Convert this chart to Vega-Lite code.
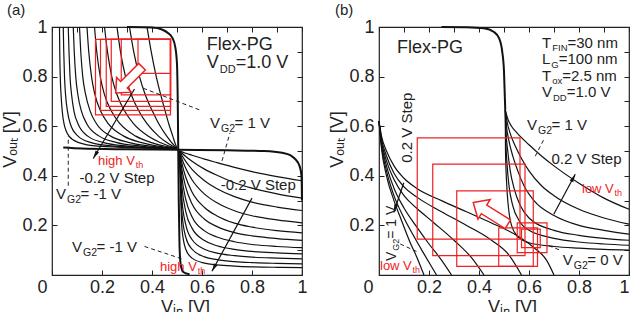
{
  "$schema": "https://vega.github.io/schema/vega-lite/v6.json",
  "background": "white",
  "padding": {"left": 1, "top": 2, "right": 0, "bottom": 0},
  "spacing": 20,
  "config": {
    "view": {"stroke": "#222", "strokeWidth": 1.2},
    "axis": {"grid": false, "domain": false, "tickColor": "#222", "tickSize": -5, "tickWidth": 1,
             "labelFont": "Liberation Sans", "labelFontSize": 18, "labelColor": "#222", "labelFlush": false,
             "titleFont": "Liberation Sans", "titleFontSize": 18, "titleFontWeight": "normal", "titleColor": "#222", "titlePadding": 2},
    "title": {"font": "Liberation Sans", "fontSize": 15, "fontWeight": "normal", "color": "#222", "anchor": "start"},
    "line": {"interpolate": "monotone"}
  },
  "datasets": {
    "curvesA": [
      {"c":"B1","o":0,"x":0.51,"y":0.5},{"c":"B1","o":1,"x":0.52,"y":0.4965},{"c":"B1","o":2,"x":0.535,"y":0.491},{"c":"B1","o":3,"x":0.56,"y":0.483},{"c":"B1","o":4,"x":0.61,"y":0.467},{"c":"B1","o":5,"x":0.66,"y":0.453},{"c":"B1","o":6,"x":0.73,"y":0.434},{"c":"B1","o":7,"x":0.8,"y":0.417},{"c":"B1","o":8,"x":0.9,"y":0.397},{"c":"B1","o":9,"x":1,"y":0.38},
      {"c":"B2","o":0,"x":0.51,"y":0.5},{"c":"B2","o":1,"x":0.52,"y":0.491},{"c":"B2","o":2,"x":0.535,"y":0.478},{"c":"B2","o":3,"x":0.56,"y":0.459},{"c":"B2","o":4,"x":0.61,"y":0.427},{"c":"B2","o":5,"x":0.66,"y":0.402},{"c":"B2","o":6,"x":0.73,"y":0.372},{"c":"B2","o":7,"x":0.8,"y":0.35},{"c":"B2","o":8,"x":0.9,"y":0.327},{"c":"B2","o":9,"x":1,"y":0.31},
      {"c":"B3","o":0,"x":0.51,"y":0.5},{"c":"B3","o":1,"x":0.52,"y":0.482},{"c":"B3","o":2,"x":0.535,"y":0.458},{"c":"B3","o":3,"x":0.56,"y":0.426},{"c":"B3","o":4,"x":0.61,"y":0.38},{"c":"B3","o":5,"x":0.66,"y":0.348},{"c":"B3","o":6,"x":0.73,"y":0.316},{"c":"B3","o":7,"x":0.8,"y":0.294},{"c":"B3","o":8,"x":0.9,"y":0.274},{"c":"B3","o":9,"x":1,"y":0.26},
      {"c":"B4","o":0,"x":0.51,"y":0.5},{"c":"B4","o":1,"x":0.52,"y":0.468},{"c":"B4","o":2,"x":0.535,"y":0.43},{"c":"B4","o":3,"x":0.56,"y":0.384},{"c":"B4","o":4,"x":0.61,"y":0.326},{"c":"B4","o":5,"x":0.66,"y":0.291},{"c":"B4","o":6,"x":0.73,"y":0.259},{"c":"B4","o":7,"x":0.8,"y":0.239},{"c":"B4","o":8,"x":0.9,"y":0.222},{"c":"B4","o":9,"x":1,"y":0.21},
      {"c":"B5","o":0,"x":0.51,"y":0.5},{"c":"B5","o":1,"x":0.52,"y":0.449},{"c":"B5","o":2,"x":0.535,"y":0.394},{"c":"B5","o":3,"x":0.56,"y":0.335},{"c":"B5","o":4,"x":0.61,"y":0.272},{"c":"B5","o":5,"x":0.66,"y":0.238},{"c":"B5","o":6,"x":0.73,"y":0.209},{"c":"B5","o":7,"x":0.8,"y":0.193},{"c":"B5","o":8,"x":0.9,"y":0.179},{"c":"B5","o":9,"x":1,"y":0.17},
      {"c":"B6","o":0,"x":0.51,"y":0.5},{"c":"B6","o":1,"x":0.52,"y":0.424},{"c":"B6","o":2,"x":0.535,"y":0.354},{"c":"B6","o":3,"x":0.56,"y":0.287},{"c":"B6","o":4,"x":0.61,"y":0.225},{"c":"B6","o":5,"x":0.66,"y":0.195},{"c":"B6","o":6,"x":0.73,"y":0.171},{"c":"B6","o":7,"x":0.8,"y":0.158},{"c":"B6","o":8,"x":0.9,"y":0.147},{"c":"B6","o":9,"x":1,"y":0.14},
      {"c":"B7","o":0,"x":0.51,"y":0.5},{"c":"B7","o":1,"x":0.52,"y":0.391},{"c":"B7","o":2,"x":0.535,"y":0.305},{"c":"B7","o":3,"x":0.56,"y":0.235},{"c":"B7","o":4,"x":0.61,"y":0.178},{"c":"B7","o":5,"x":0.66,"y":0.153},{"c":"B7","o":6,"x":0.73,"y":0.134},{"c":"B7","o":7,"x":0.8,"y":0.123},{"c":"B7","o":8,"x":0.9,"y":0.115},{"c":"B7","o":9,"x":1,"y":0.11},
      {"c":"B8","o":0,"x":0.51,"y":0.5},{"c":"B8","o":1,"x":0.52,"y":0.353},{"c":"B8","o":2,"x":0.535,"y":0.256},{"c":"B8","o":3,"x":0.56,"y":0.189},{"c":"B8","o":4,"x":0.61,"y":0.139},{"c":"B8","o":5,"x":0.66,"y":0.118},{"c":"B8","o":6,"x":0.73,"y":0.103},{"c":"B8","o":7,"x":0.8,"y":0.095},{"c":"B8","o":8,"x":0.9,"y":0.089},{"c":"B8","o":9,"x":1,"y":0.085},
      {"c":"B9","o":0,"x":0.51,"y":0.5},{"c":"B9","o":1,"x":0.52,"y":0.302},{"c":"B9","o":2,"x":0.535,"y":0.203},{"c":"B9","o":3,"x":0.56,"y":0.143},{"c":"B9","o":4,"x":0.61,"y":0.104},{"c":"B9","o":5,"x":0.66,"y":0.088},{"c":"B9","o":6,"x":0.73,"y":0.078},{"c":"B9","o":7,"x":0.8,"y":0.072},{"c":"B9","o":8,"x":0.9,"y":0.068},{"c":"B9","o":9,"x":1,"y":0.065},
      {"c":"B10","o":0,"x":0.51,"y":0.5},{"c":"B10","o":1,"x":0.52,"y":0.248},{"c":"B10","o":2,"x":0.535,"y":0.153},{"c":"B10","o":3,"x":0.56,"y":0.104},{"c":"B10","o":4,"x":0.61,"y":0.073},{"c":"B10","o":5,"x":0.66,"y":0.062},{"c":"B10","o":6,"x":0.73,"y":0.054},{"c":"B10","o":7,"x":0.8,"y":0.05},{"c":"B10","o":8,"x":0.9,"y":0.047},{"c":"B10","o":9,"x":1,"y":0.045},
      {"c":"B11","o":0,"x":0.51,"y":0.5},{"c":"B11","o":1,"x":0.52,"y":0.184},{"c":"B11","o":2,"x":0.535,"y":0.104},{"c":"B11","o":3,"x":0.56,"y":0.068},{"c":"B11","o":4,"x":0.61,"y":0.048},{"c":"B11","o":5,"x":0.66,"y":0.041},{"c":"B11","o":6,"x":0.73,"y":0.036},{"c":"B11","o":7,"x":0.8,"y":0.033},{"c":"B11","o":8,"x":0.9,"y":0.031},{"c":"B11","o":9,"x":1,"y":0.03},
      {"c":"A1","o":0,"x":0.38,"y":1},{"c":"A1","o":1,"x":0.397,"y":0.9},{"c":"A1","o":2,"x":0.417,"y":0.8},{"c":"A1","o":3,"x":0.434,"y":0.73},{"c":"A1","o":4,"x":0.453,"y":0.66},{"c":"A1","o":5,"x":0.467,"y":0.61},{"c":"A1","o":6,"x":0.483,"y":0.56},{"c":"A1","o":7,"x":0.491,"y":0.535},{"c":"A1","o":8,"x":0.4965,"y":0.52},{"c":"A1","o":9,"x":0.5,"y":0.51},
      {"c":"A2","o":0,"x":0.31,"y":1},{"c":"A2","o":1,"x":0.327,"y":0.9},{"c":"A2","o":2,"x":0.35,"y":0.8},{"c":"A2","o":3,"x":0.372,"y":0.73},{"c":"A2","o":4,"x":0.402,"y":0.66},{"c":"A2","o":5,"x":0.427,"y":0.61},{"c":"A2","o":6,"x":0.459,"y":0.56},{"c":"A2","o":7,"x":0.478,"y":0.535},{"c":"A2","o":8,"x":0.491,"y":0.52},{"c":"A2","o":9,"x":0.5,"y":0.51},
      {"c":"A3","o":0,"x":0.26,"y":1},{"c":"A3","o":1,"x":0.274,"y":0.9},{"c":"A3","o":2,"x":0.294,"y":0.8},{"c":"A3","o":3,"x":0.316,"y":0.73},{"c":"A3","o":4,"x":0.348,"y":0.66},{"c":"A3","o":5,"x":0.38,"y":0.61},{"c":"A3","o":6,"x":0.426,"y":0.56},{"c":"A3","o":7,"x":0.458,"y":0.535},{"c":"A3","o":8,"x":0.482,"y":0.52},{"c":"A3","o":9,"x":0.5,"y":0.51},
      {"c":"A4","o":0,"x":0.21,"y":1},{"c":"A4","o":1,"x":0.222,"y":0.9},{"c":"A4","o":2,"x":0.239,"y":0.8},{"c":"A4","o":3,"x":0.259,"y":0.73},{"c":"A4","o":4,"x":0.291,"y":0.66},{"c":"A4","o":5,"x":0.326,"y":0.61},{"c":"A4","o":6,"x":0.384,"y":0.56},{"c":"A4","o":7,"x":0.43,"y":0.535},{"c":"A4","o":8,"x":0.468,"y":0.52},{"c":"A4","o":9,"x":0.5,"y":0.51},
      {"c":"A5","o":0,"x":0.17,"y":1},{"c":"A5","o":1,"x":0.179,"y":0.9},{"c":"A5","o":2,"x":0.193,"y":0.8},{"c":"A5","o":3,"x":0.209,"y":0.73},{"c":"A5","o":4,"x":0.238,"y":0.66},{"c":"A5","o":5,"x":0.272,"y":0.61},{"c":"A5","o":6,"x":0.335,"y":0.56},{"c":"A5","o":7,"x":0.394,"y":0.535},{"c":"A5","o":8,"x":0.449,"y":0.52},{"c":"A5","o":9,"x":0.5,"y":0.51},
      {"c":"A6","o":0,"x":0.14,"y":1},{"c":"A6","o":1,"x":0.147,"y":0.9},{"c":"A6","o":2,"x":0.158,"y":0.8},{"c":"A6","o":3,"x":0.171,"y":0.73},{"c":"A6","o":4,"x":0.195,"y":0.66},{"c":"A6","o":5,"x":0.225,"y":0.61},{"c":"A6","o":6,"x":0.287,"y":0.56},{"c":"A6","o":7,"x":0.354,"y":0.535},{"c":"A6","o":8,"x":0.424,"y":0.52},{"c":"A6","o":9,"x":0.5,"y":0.51},
      {"c":"A7","o":0,"x":0.11,"y":1},{"c":"A7","o":1,"x":0.115,"y":0.9},{"c":"A7","o":2,"x":0.123,"y":0.8},{"c":"A7","o":3,"x":0.134,"y":0.73},{"c":"A7","o":4,"x":0.153,"y":0.66},{"c":"A7","o":5,"x":0.178,"y":0.61},{"c":"A7","o":6,"x":0.235,"y":0.56},{"c":"A7","o":7,"x":0.305,"y":0.535},{"c":"A7","o":8,"x":0.391,"y":0.52},{"c":"A7","o":9,"x":0.5,"y":0.51},
      {"c":"A8","o":0,"x":0.085,"y":1},{"c":"A8","o":1,"x":0.089,"y":0.9},{"c":"A8","o":2,"x":0.095,"y":0.8},{"c":"A8","o":3,"x":0.103,"y":0.73},{"c":"A8","o":4,"x":0.118,"y":0.66},{"c":"A8","o":5,"x":0.139,"y":0.61},{"c":"A8","o":6,"x":0.189,"y":0.56},{"c":"A8","o":7,"x":0.256,"y":0.535},{"c":"A8","o":8,"x":0.353,"y":0.52},{"c":"A8","o":9,"x":0.5,"y":0.51},
      {"c":"A9","o":0,"x":0.065,"y":1},{"c":"A9","o":1,"x":0.068,"y":0.9},{"c":"A9","o":2,"x":0.072,"y":0.8},{"c":"A9","o":3,"x":0.078,"y":0.73},{"c":"A9","o":4,"x":0.088,"y":0.66},{"c":"A9","o":5,"x":0.104,"y":0.61},{"c":"A9","o":6,"x":0.143,"y":0.56},{"c":"A9","o":7,"x":0.203,"y":0.535},{"c":"A9","o":8,"x":0.302,"y":0.52},{"c":"A9","o":9,"x":0.5,"y":0.51},
      {"c":"A10","o":0,"x":0.045,"y":1},{"c":"A10","o":1,"x":0.047,"y":0.9},{"c":"A10","o":2,"x":0.05,"y":0.8},{"c":"A10","o":3,"x":0.054,"y":0.73},{"c":"A10","o":4,"x":0.062,"y":0.66},{"c":"A10","o":5,"x":0.073,"y":0.61},{"c":"A10","o":6,"x":0.104,"y":0.56},{"c":"A10","o":7,"x":0.153,"y":0.535},{"c":"A10","o":8,"x":0.248,"y":0.52},{"c":"A10","o":9,"x":0.5,"y":0.51},
      {"c":"A11","o":0,"x":0.03,"y":1},{"c":"A11","o":1,"x":0.031,"y":0.9},{"c":"A11","o":2,"x":0.033,"y":0.8},{"c":"A11","o":3,"x":0.036,"y":0.73},{"c":"A11","o":4,"x":0.041,"y":0.66},{"c":"A11","o":5,"x":0.048,"y":0.61},{"c":"A11","o":6,"x":0.068,"y":0.56},{"c":"A11","o":7,"x":0.104,"y":0.535},{"c":"A11","o":8,"x":0.184,"y":0.52},{"c":"A11","o":9,"x":0.5,"y":0.51}
    ],
    "heavyA": [
      {"c":"H1","o":0,"x":0.3,"y":1},{"c":"H1","o":1,"x":0.4,"y":0.998},{"c":"H1","o":2,"x":0.44,"y":0.99},{"c":"H1","o":3,"x":0.465,"y":0.975},{"c":"H1","o":4,"x":0.482,"y":0.955},{"c":"H1","o":5,"x":0.493,"y":0.92},{"c":"H1","o":6,"x":0.5,"y":0.85},{"c":"H1","o":7,"x":0.503,"y":0.7},{"c":"H1","o":8,"x":0.505,"y":0.5},{"c":"H1","o":9,"x":0.507,"y":0.3},{"c":"H1","o":10,"x":0.51,"y":0.12},{"c":"H1","o":11,"x":0.515,"y":0.04},{"c":"H1","o":12,"x":0.525,"y":0.012},{"c":"H1","o":13,"x":0.55,"y":0.003},
      {"c":"H2","o":0,"x":0.045,"y":0.514},{"c":"H2","o":1,"x":0.12,"y":0.51},{"c":"H2","o":2,"x":0.3,"y":0.507},{"c":"H2","o":3,"x":0.5,"y":0.505},{"c":"H2","o":4,"x":0.7,"y":0.503},{"c":"H2","o":5,"x":0.85,"y":0.5},{"c":"H2","o":6,"x":0.92,"y":0.493},{"c":"H2","o":7,"x":0.955,"y":0.482},{"c":"H2","o":8,"x":0.975,"y":0.465},{"c":"H2","o":9,"x":0.99,"y":0.44},{"c":"H2","o":10,"x":0.998,"y":0.4},{"c":"H2","o":11,"x":1,"y":0.3}
    ],
    "curvesB": [
      {"c":"P0","o":0,"x":0,"y":0.62},{"c":"P0","o":1,"x":0.01,"y":0.56},{"c":"P0","o":2,"x":0.03,"y":0.5},{"c":"P0","o":3,"x":0.06,"y":0.44},{"c":"P0","o":4,"x":0.1,"y":0.39},{"c":"P0","o":5,"x":0.15,"y":0.35},{"c":"P0","o":6,"x":0.25,"y":0.3},{"c":"P0","o":7,"x":0.35,"y":0.255},{"c":"P0","o":8,"x":0.45,"y":0.21},{"c":"P0","o":9,"x":0.55,"y":0.16},{"c":"P0","o":10,"x":0.62,"y":0.11},{"c":"P0","o":11,"x":0.67,"y":0.06},{"c":"P0","o":12,"x":0.7,"y":0},
      {"c":"P1","o":0,"x":0,"y":0.62},{"c":"P1","o":1,"x":0.01,"y":0.55},{"c":"P1","o":2,"x":0.03,"y":0.48},{"c":"P1","o":3,"x":0.06,"y":0.41},{"c":"P1","o":4,"x":0.1,"y":0.355},{"c":"P1","o":5,"x":0.15,"y":0.315},{"c":"P1","o":6,"x":0.25,"y":0.255},{"c":"P1","o":7,"x":0.35,"y":0.2},{"c":"P1","o":8,"x":0.45,"y":0.14},{"c":"P1","o":9,"x":0.52,"y":0.08},{"c":"P1","o":10,"x":0.57,"y":0},
      {"c":"P2","o":0,"x":0,"y":0.62},{"c":"P2","o":1,"x":0.01,"y":0.54},{"c":"P2","o":2,"x":0.03,"y":0.46},{"c":"P2","o":3,"x":0.06,"y":0.385},{"c":"P2","o":4,"x":0.1,"y":0.32},{"c":"P2","o":5,"x":0.15,"y":0.27},{"c":"P2","o":6,"x":0.22,"y":0.21},{"c":"P2","o":7,"x":0.3,"y":0.14},{"c":"P2","o":8,"x":0.37,"y":0.07},{"c":"P2","o":9,"x":0.42,"y":0},
      {"c":"P3","o":0,"x":0,"y":0.62},{"c":"P3","o":1,"x":0.01,"y":0.53},{"c":"P3","o":2,"x":0.03,"y":0.44},{"c":"P3","o":3,"x":0.06,"y":0.35},{"c":"P3","o":4,"x":0.1,"y":0.27},{"c":"P3","o":5,"x":0.15,"y":0.195},{"c":"P3","o":6,"x":0.2,"y":0.125},{"c":"P3","o":7,"x":0.25,"y":0.06},{"c":"P3","o":8,"x":0.29,"y":0},
      {"c":"P4","o":0,"x":0,"y":0.62},{"c":"P4","o":1,"x":0.01,"y":0.52},{"c":"P4","o":2,"x":0.03,"y":0.42},{"c":"P4","o":3,"x":0.06,"y":0.32},{"c":"P4","o":4,"x":0.1,"y":0.23},{"c":"P4","o":5,"x":0.14,"y":0.155},{"c":"P4","o":6,"x":0.18,"y":0.085},{"c":"P4","o":7,"x":0.23,"y":0},
      {"c":"P5","o":0,"x":0,"y":0.62},{"c":"P5","o":1,"x":0.01,"y":0.51},{"c":"P5","o":2,"x":0.03,"y":0.4},{"c":"P5","o":3,"x":0.06,"y":0.3},{"c":"P5","o":4,"x":0.09,"y":0.22},{"c":"P5","o":5,"x":0.125,"y":0.13},{"c":"P5","o":6,"x":0.15,"y":0.075},{"c":"P5","o":7,"x":0.18,"y":0},
      {"c":"Q5","o":0,"x":0.505,"y":0.667},{"c":"Q5","o":1,"x":0.515,"y":0.63},{"c":"Q5","o":2,"x":0.53,"y":0.6},{"c":"Q5","o":3,"x":0.55,"y":0.575},{"c":"Q5","o":4,"x":0.6,"y":0.525},{"c":"Q5","o":5,"x":0.65,"y":0.48},{"c":"Q5","o":6,"x":0.7,"y":0.44},{"c":"Q5","o":7,"x":0.8,"y":0.37},{"c":"Q5","o":8,"x":0.9,"y":0.31},{"c":"Q5","o":9,"x":1,"y":0.265},
      {"c":"Q4","o":0,"x":0.505,"y":0.667},{"c":"Q4","o":1,"x":0.512,"y":0.62},{"c":"Q4","o":2,"x":0.525,"y":0.57},{"c":"Q4","o":3,"x":0.545,"y":0.52},{"c":"Q4","o":4,"x":0.57,"y":0.47},{"c":"Q4","o":5,"x":0.6,"y":0.42},{"c":"Q4","o":6,"x":0.65,"y":0.36},{"c":"Q4","o":7,"x":0.7,"y":0.32},{"c":"Q4","o":8,"x":0.8,"y":0.265},{"c":"Q4","o":9,"x":0.9,"y":0.23},{"c":"Q4","o":10,"x":1,"y":0.205},
      {"c":"Q3","o":0,"x":0.505,"y":0.667},{"c":"Q3","o":1,"x":0.51,"y":0.6},{"c":"Q3","o":2,"x":0.52,"y":0.54},{"c":"Q3","o":3,"x":0.535,"y":0.48},{"c":"Q3","o":4,"x":0.555,"y":0.42},{"c":"Q3","o":5,"x":0.58,"y":0.36},{"c":"Q3","o":6,"x":0.62,"y":0.3},{"c":"Q3","o":7,"x":0.7,"y":0.24},{"c":"Q3","o":8,"x":0.8,"y":0.2},{"c":"Q3","o":9,"x":0.9,"y":0.18},{"c":"Q3","o":10,"x":1,"y":0.165},
      {"c":"Q2","o":0,"x":0.505,"y":0.667},{"c":"Q2","o":1,"x":0.508,"y":0.58},{"c":"Q2","o":2,"x":0.515,"y":0.5},{"c":"Q2","o":3,"x":0.525,"y":0.42},{"c":"Q2","o":4,"x":0.54,"y":0.35},{"c":"Q2","o":5,"x":0.565,"y":0.28},{"c":"Q2","o":6,"x":0.6,"y":0.23},{"c":"Q2","o":7,"x":0.7,"y":0.18},{"c":"Q2","o":8,"x":0.8,"y":0.16},{"c":"Q2","o":9,"x":0.9,"y":0.148},{"c":"Q2","o":10,"x":1,"y":0.14},
      {"c":"Q1","o":0,"x":0.505,"y":0.667},{"c":"Q1","o":1,"x":0.507,"y":0.55},{"c":"Q1","o":2,"x":0.512,"y":0.45},{"c":"Q1","o":3,"x":0.52,"y":0.36},{"c":"Q1","o":4,"x":0.535,"y":0.28},{"c":"Q1","o":5,"x":0.56,"y":0.22},{"c":"Q1","o":6,"x":0.6,"y":0.18},{"c":"Q1","o":7,"x":0.7,"y":0.148},{"c":"Q1","o":8,"x":0.8,"y":0.133},{"c":"Q1","o":9,"x":0.9,"y":0.125},{"c":"Q1","o":10,"x":1,"y":0.12},
      {"c":"Q0","o":0,"x":0.505,"y":0.667},{"c":"Q0","o":1,"x":0.506,"y":0.5},{"c":"Q0","o":2,"x":0.51,"y":0.38},{"c":"Q0","o":3,"x":0.517,"y":0.28},{"c":"Q0","o":4,"x":0.53,"y":0.2},{"c":"Q0","o":5,"x":0.555,"y":0.155},{"c":"Q0","o":6,"x":0.6,"y":0.13},{"c":"Q0","o":7,"x":0.7,"y":0.115},{"c":"Q0","o":8,"x":0.8,"y":0.108},{"c":"Q0","o":9,"x":0.9,"y":0.103},{"c":"Q0","o":10,"x":1,"y":0.1}
    ],
    "heavyB": [
      {"c":"H","o":0,"x":0.25,"y":1},{"c":"H","o":1,"x":0.35,"y":0.999},{"c":"H","o":2,"x":0.42,"y":0.995},{"c":"H","o":3,"x":0.46,"y":0.98},{"c":"H","o":4,"x":0.48,"y":0.955},{"c":"H","o":5,"x":0.493,"y":0.9},{"c":"H","o":6,"x":0.5,"y":0.82},{"c":"H","o":7,"x":0.505,"y":0.667}
    ]
  },
  "hconcat": [
    {
      "width": 250, "height": 248,
      "title": {"text": "(a)", "dx": 5, "offset": 0},
      "resolve": {"axis": {"x": "independent", "y": "independent"}},
      "layer": [
        {
          "layer": [
            {
              "data": {"name": "curvesA"},
              "mark": {"type": "line", "color": "#111", "strokeWidth": 1.2},
              "encoding": {
                "x": {"field": "x", "type": "quantitative", "scale": {"domain": [0, 1], "nice": false},
                      "axis": {"title": "Vᵢₙ [V]", "values": [0,0.1,0.2,0.3,0.4,0.5,0.6,0.7,0.8,0.9,1],
                               "labelExpr": "round(datum.value*10) % 2 == 1 ? '' : format(datum.value, '~g')",
                               "labelAlign": {"condition": {"test": "datum.value == 0", "value": "right"}, "value": "center"},
                               "labelOffset": {"condition": {"test": "datum.value == 0", "value": -5}, "value": 0},
                               "labelPadding": 8, "titleX": 133}},
                "y": {"field": "y", "type": "quantitative", "scale": {"domain": [0, 1], "nice": false},
                      "axis": {"title": "Vₒᵤₜ [V]", "values": [0,0.1,0.2,0.3,0.4,0.5,0.6,0.7,0.8,0.9,1],
                               "labelExpr": "datum.value == 0 || round(datum.value*10) % 2 == 1 ? '' : format(datum.value, '~g')",
                               "labelPadding": 10, "titleY": 112}},
                "detail": {"field": "c"},
                "order": {"field": "o", "type": "quantitative"}
              }
            },
            {
              "data": {"name": "heavyA"},
              "mark": {"type": "line", "color": "#111", "strokeWidth": 2},
              "encoding": {"x": {"field": "x", "type": "quantitative"}, "y": {"field": "y", "type": "quantitative"}, "detail": {"field": "c"}, "order": {"field": "o", "type": "quantitative"}}
            },
            {
              "data": {"values": [
                {"x": 0.174, "x2": 0.474, "y": 0.646, "y2": 0.95},
                {"x": 0.194, "x2": 0.474, "y": 0.664, "y2": 0.95},
                {"x": 0.217, "x2": 0.474, "y": 0.68, "y2": 0.95},
                {"x": 0.237, "x2": 0.474, "y": 0.7, "y2": 0.95},
                {"x": 0.277, "x2": 0.474, "y": 0.726, "y2": 0.95},
                {"x": 0.344, "x2": 0.474, "y": 0.813, "y2": 0.95}
              ]},
              "mark": {"type": "rect", "fill": null, "stroke": "#ee2222", "strokeWidth": 1.2},
              "encoding": {"x": {"field": "x", "type": "quantitative"}, "x2": {"field": "x2"}, "y": {"field": "y", "type": "quantitative"}, "y2": {"field": "y2"}}
            },
            {
              "data": {"values": [
                {"c": "d1", "o": 0, "x": 0.365, "y": 0.753}, {"c": "d1", "o": 1, "x": 0.592, "y": 0.665},
                {"c": "d2", "o": 0, "x": 0.68, "y": 0.46}, {"c": "d2", "o": 1, "x": 0.712, "y": 0.573},
                {"c": "d3", "o": 0, "x": 0.065, "y": 0.36}, {"c": "d3", "o": 1, "x": 0.0651, "y": 0.56},
                {"c": "d4", "o": 0, "x": 0.37, "y": 0.115}, {"c": "d4", "o": 1, "x": 0.52, "y": 0.065}
              ]},
              "mark": {"type": "line", "color": "#222", "strokeWidth": 1, "strokeDash": [4, 3], "interpolate": "linear"},
              "encoding": {"x": {"field": "x", "type": "quantitative"}, "y": {"field": "y", "type": "quantitative"}, "detail": {"field": "c"}, "order": {"field": "o", "type": "quantitative"}}
            },
            {
              "data": {"values": [
                {"x": 0.33, "y": 0.75, "x2": 0.165, "y2": 0.47},
                {"x": 0.8, "y": 0.31, "x2": 0.64, "y2": 0.015}
              ]},
              "mark": {"type": "rule", "color": "#111", "strokeWidth": 1.2},
              "encoding": {"x": {"field": "x", "type": "quantitative"}, "y": {"field": "y", "type": "quantitative"}, "x2": {"field": "x2"}, "y2": {"field": "y2"}}
            },
            {
              "data": {"values": [{"x": 0.165, "y": 0.47}]},
              "mark": {"type": "point", "shape": "M0,0 L0.5,2 L-0.5,2 Z", "size": 64, "filled": true, "color": "#111", "opacity": 1, "angle": 210.7},
              "encoding": {"x": {"field": "x", "type": "quantitative"}, "y": {"field": "y", "type": "quantitative"}}
            },
            {
              "data": {"values": [{"x": 0.64, "y": 0.015}]},
              "mark": {"type": "point", "shape": "M0,0 L0.5,2 L-0.5,2 Z", "size": 64, "filled": true, "color": "#111", "opacity": 1, "angle": 208.7},
              "encoding": {"x": {"field": "x", "type": "quantitative"}, "y": {"field": "y", "type": "quantitative"}}
            },
            {
              "data": {"values": [{"x": 0.255, "y": 0.734}]},
              "mark": {"type": "point", "shape": "M0,0 L0.9,1 L0.4,1 L0.4,3.2 L-0.4,3.2 L-0.4,1 L-0.9,1 Z", "size": 540, "fill": "white", "fillOpacity": 1, "stroke": "#ee2222", "strokeWidth": 1.5, "opacity": 1, "angle": 225},
              "encoding": {"x": {"field": "x", "type": "quantitative"}, "y": {"field": "y", "type": "quantitative"}}
            },
            {
              "data": {"values": [
                {"x": 0.619, "y": 0.907, "t": "Flex-PG"},
                {"x": 0.619, "y": 0.835, "t": "V"},
                {"x": 0.735, "y": 0.835, "t": "=1.0 V"}
              ]},
              "mark": {"type": "text", "fontSize": 18, "align": "left", "baseline": "alphabetic", "font": "Liberation Sans", "color": "#222"},
              "encoding": {"x": {"field": "x", "type": "quantitative"}, "y": {"field": "y", "type": "quantitative"}, "text": {"field": "t"}}
            },
            {
              "data": {"values": [{"x": 0.671, "y": 0.815, "t": "DD"}]},
              "mark": {"type": "text", "fontSize": 11, "align": "left", "baseline": "alphabetic", "font": "Liberation Sans", "color": "#222"},
              "encoding": {"x": {"field": "x", "type": "quantitative"}, "y": {"field": "y", "type": "quantitative"}, "text": {"field": "t"}}
            },
            {
              "data": {"values": [
                {"x": 0.632, "y": 0.593, "t": "V"}, {"x": 0.73, "y": 0.593, "t": "= 1 V"},
                {"x": 0.016, "y": 0.306, "t": "V"}, {"x": 0.114, "y": 0.306, "t": "= -1 V"},
                {"x": 0.08, "y": 0.093, "t": "V"}, {"x": 0.178, "y": 0.093, "t": "= -1 V"},
                {"x": 0.11, "y": 0.37, "t": "-0.2 V Step"},
                {"x": 0.675, "y": 0.343, "t": "-0.2 V Step"}
              ]},
              "mark": {"type": "text", "fontSize": 15, "align": "left", "baseline": "alphabetic", "font": "Liberation Sans", "color": "#222"},
              "encoding": {"x": {"field": "x", "type": "quantitative"}, "y": {"field": "y", "type": "quantitative"}, "text": {"field": "t"}}
            },
            {
              "data": {"values": [
                {"x": 0.676, "y": 0.577, "t": "G2"}, {"x": 0.06, "y": 0.29, "t": "G2"}, {"x": 0.124, "y": 0.077, "t": "G2"}
              ]},
              "mark": {"type": "text", "fontSize": 10.5, "align": "left", "baseline": "alphabetic", "font": "Liberation Sans", "color": "#222"},
              "encoding": {"x": {"field": "x", "type": "quantitative"}, "y": {"field": "y", "type": "quantitative"}, "text": {"field": "t"}}
            },
            {
              "data": {"values": [{"x": 0.184, "y": 0.444, "t": "high V"}, {"x": 0.432, "y": 0.016, "t": "high V"}]},
              "mark": {"type": "text", "fontSize": 13, "align": "left", "baseline": "alphabetic", "font": "Liberation Sans", "color": "#ee2222"},
              "encoding": {"x": {"field": "x", "type": "quantitative"}, "y": {"field": "y", "type": "quantitative"}, "text": {"field": "t"}}
            },
            {
              "data": {"values": [{"x": 0.335, "y": 0.432, "t": "th"}, {"x": 0.583, "y": 0.004, "t": "th"}]},
              "mark": {"type": "text", "fontSize": 9, "align": "left", "baseline": "alphabetic", "font": "Liberation Sans", "color": "#ee2222"},
              "encoding": {"x": {"field": "x", "type": "quantitative"}, "y": {"field": "y", "type": "quantitative"}, "text": {"field": "t"}}
            }
          ]
        },
        {
          "data": {"values": [{"x": 0, "y": 0}]},
          "mark": {"type": "point", "opacity": 0},
          "encoding": {
            "x": {"field": "x", "type": "quantitative", "scale": {"domain": [0, 1], "nice": false},
                  "axis": {"orient": "top", "labels": false, "title": null, "values": [0,0.1,0.2,0.3,0.4,0.5,0.6,0.7,0.8,0.9,1]}},
            "y": {"field": "y", "type": "quantitative", "scale": {"domain": [0, 1], "nice": false},
                  "axis": {"orient": "right", "labels": false, "title": null, "values": [0,0.1,0.2,0.3,0.4,0.5,0.6,0.7,0.8,0.9,1]}}
          }
        }
      ]
    },
    {
      "width": 250, "height": 248,
      "title": {"text": "(b)", "dx": 6, "offset": 0},
      "resolve": {"axis": {"x": "independent", "y": "independent"}},
      "layer": [
        {
          "layer": [
            {
              "data": {"name": "curvesB"},
              "mark": {"type": "line", "color": "#111", "strokeWidth": 1.2},
              "encoding": {
                "x": {"field": "x", "type": "quantitative", "scale": {"domain": [0, 1], "nice": false},
                      "axis": {"title": "Vᵢₙ [V]", "values": [0,0.1,0.2,0.3,0.4,0.5,0.6,0.7,0.8,0.9,1],
                               "labelExpr": "round(datum.value*10) % 2 == 1 ? '' : format(datum.value, '~g')",
                               "labelAlign": {"condition": {"test": "datum.value == 0 || datum.value == 1", "value": "right"}, "value": "center"},
                               "labelOffset": {"condition": {"test": "datum.value == 0", "value": -6}, "value": 0},
                               "labelPadding": 8, "titleX": 133}},
                "y": {"field": "y", "type": "quantitative", "scale": {"domain": [0, 1], "nice": false},
                      "axis": {"title": "Vₒᵤₜ [V]", "values": [0,0.1,0.2,0.3,0.4,0.5,0.6,0.7,0.8,0.9,1],
                               "labelExpr": "datum.value == 0 || round(datum.value*10) % 2 == 1 ? '' : format(datum.value, '~g')",
                               "labelPadding": 10, "titleY": 112}},
                "detail": {"field": "c"},
                "order": {"field": "o", "type": "quantitative"}
              }
            },
            {
              "data": {"name": "heavyB"},
              "mark": {"type": "line", "color": "#111", "strokeWidth": 2},
              "encoding": {"x": {"field": "x", "type": "quantitative"}, "y": {"field": "y", "type": "quantitative"}, "detail": {"field": "c"}, "order": {"field": "o", "type": "quantitative"}}
            },
            {
              "data": {"values": [
                {"x": 0.153, "x2": 0.564, "y": 0.145, "y2": 0.553},
                {"x": 0.215, "x2": 0.584, "y": 0.078, "y2": 0.447},
                {"x": 0.311, "x2": 0.617, "y": 0.035, "y2": 0.339},
                {"x": 0.479, "x2": 0.634, "y": 0.035, "y2": 0.19},
                {"x": 0.553, "x2": 0.672, "y": 0.09, "y2": 0.21},
                {"x": 0.57, "x2": 0.645, "y": 0.11, "y2": 0.185}
              ]},
              "mark": {"type": "rect", "fill": null, "stroke": "#ee2222", "strokeWidth": 1.2},
              "encoding": {"x": {"field": "x", "type": "quantitative"}, "x2": {"field": "x2"}, "y": {"field": "y", "type": "quantitative"}, "y2": {"field": "y2"}}
            },
            {
              "data": {"values": [
                {"c": "d1", "o": 0, "x": 0.625, "y": 0.479}, {"c": "d1", "o": 1, "x": 0.659, "y": 0.546},
                {"c": "d2", "o": 0, "x": 0.679, "y": 0.118}, {"c": "d2", "o": 1, "x": 0.725, "y": 0.1},
                {"c": "d3", "o": 0, "x": 0.085, "y": 0.125}, {"c": "d3", "o": 1, "x": 0.15, "y": 0.095}
              ]},
              "mark": {"type": "line", "color": "#222", "strokeWidth": 1, "strokeDash": [4, 3], "interpolate": "linear"},
              "encoding": {"x": {"field": "x", "type": "quantitative"}, "y": {"field": "y", "type": "quantitative"}, "detail": {"field": "c"}, "order": {"field": "o", "type": "quantitative"}}
            },
            {
              "data": {"values": [
                {"x": 0.699, "y": 0.245, "x2": 0.785, "y2": 0.406},
                {"x": 0.099, "y": 0.372, "x2": 0.059, "y2": 0.252}
              ]},
              "mark": {"type": "rule", "color": "#111", "strokeWidth": 1.2},
              "encoding": {"x": {"field": "x", "type": "quantitative"}, "y": {"field": "y", "type": "quantitative"}, "x2": {"field": "x2"}, "y2": {"field": "y2"}}
            },
            {
              "data": {"values": [{"x": 0.785, "y": 0.406}]},
              "mark": {"type": "point", "shape": "M0,0 L0.5,2 L-0.5,2 Z", "size": 64, "filled": true, "color": "#111", "opacity": 1, "angle": 28.3},
              "encoding": {"x": {"field": "x", "type": "quantitative"}, "y": {"field": "y", "type": "quantitative"}}
            },
            {
              "data": {"values": [{"x": 0.059, "y": 0.252}]},
              "mark": {"type": "point", "shape": "M0,0 L0.5,2 L-0.5,2 Z", "size": 64, "filled": true, "color": "#111", "opacity": 1, "angle": 198.4},
              "encoding": {"x": {"field": "x", "type": "quantitative"}, "y": {"field": "y", "type": "quantitative"}}
            },
            {
              "data": {"values": [{"x": 0.377, "y": 0.292}]},
              "mark": {"type": "point", "shape": "M0,0 L0.9,1 L0.4,1 L0.4,3.2 L-0.4,3.2 L-0.4,1 L-0.9,1 Z", "size": 650, "fill": "white", "fillOpacity": 1, "stroke": "#ee2222", "strokeWidth": 1.5, "opacity": 1, "angle": 302},
              "encoding": {"x": {"field": "x", "type": "quantitative"}, "y": {"field": "y", "type": "quantitative"}}
            },
            {
              "data": {"values": [{"x": 0.072, "y": 0.896, "t": "Flex-PG"}]},
              "mark": {"type": "text", "fontSize": 18, "align": "left", "baseline": "alphabetic", "font": "Liberation Sans", "color": "#222"},
              "encoding": {"x": {"field": "x", "type": "quantitative"}, "y": {"field": "y", "type": "quantitative"}, "text": {"field": "t"}}
            },
            {
              "data": {"values": [
                {"x": 0.652, "y": 0.916, "t": "T"}, {"x": 0.754, "y": 0.916, "t": "=30 nm"},
                {"x": 0.652, "y": 0.849, "t": "L"}, {"x": 0.719, "y": 0.849, "t": "=100 nm"},
                {"x": 0.652, "y": 0.783, "t": "T"}, {"x": 0.733, "y": 0.783, "t": "=2.5 nm"},
                {"x": 0.652, "y": 0.717, "t": "V"}, {"x": 0.751, "y": 0.717, "t": "=1.0 V"}
              ]},
              "mark": {"type": "text", "fontSize": 15, "align": "left", "baseline": "alphabetic", "font": "Liberation Sans", "color": "#222"},
              "encoding": {"x": {"field": "x", "type": "quantitative"}, "y": {"field": "y", "type": "quantitative"}, "text": {"field": "t"}}
            },
            {
              "data": {"values": [
                {"x": 0.693, "y": 0.902, "t": "FIN"}, {"x": 0.689, "y": 0.835, "t": "G"},
                {"x": 0.693, "y": 0.769, "t": "ox"}, {"x": 0.696, "y": 0.703, "t": "DD"}
              ]},
              "mark": {"type": "text", "fontSize": 9.5, "align": "left", "baseline": "alphabetic", "font": "Liberation Sans", "color": "#222"},
              "encoding": {"x": {"field": "x", "type": "quantitative"}, "y": {"field": "y", "type": "quantitative"}, "text": {"field": "t"}}
            },
            {
              "data": {"values": [
                {"x": 0.592, "y": 0.586, "t": "V"}, {"x": 0.69, "y": 0.586, "t": "= 1 V"},
                {"x": 0.735, "y": 0.04, "t": "V"}, {"x": 0.833, "y": 0.04, "t": "= 0 V"},
                {"x": 0.69, "y": 0.446, "t": "0.2 V Step"}
              ]},
              "mark": {"type": "text", "fontSize": 15, "align": "left", "baseline": "alphabetic", "font": "Liberation Sans", "color": "#222"},
              "encoding": {"x": {"field": "x", "type": "quantitative"}, "y": {"field": "y", "type": "quantitative"}, "text": {"field": "t"}}
            },
            {
              "data": {"values": [{"x": 0.636, "y": 0.57, "t": "G2"}, {"x": 0.779, "y": 0.024, "t": "G2"}]},
              "mark": {"type": "text", "fontSize": 10.5, "align": "left", "baseline": "alphabetic", "font": "Liberation Sans", "color": "#222"},
              "encoding": {"x": {"field": "x", "type": "quantitative"}, "y": {"field": "y", "type": "quantitative"}, "text": {"field": "t"}}
            },
            {
              "data": {"values": [{"x": 0.812, "y": 0.329, "t": "low V"}, {"x": 0.004, "y": 0.02, "t": "low V"}]},
              "mark": {"type": "text", "fontSize": 13, "align": "left", "baseline": "alphabetic", "font": "Liberation Sans", "color": "#ee2222"},
              "encoding": {"x": {"field": "x", "type": "quantitative"}, "y": {"field": "y", "type": "quantitative"}, "text": {"field": "t"}}
            },
            {
              "data": {"values": [{"x": 0.942, "y": 0.317, "t": "th"}, {"x": 0.134, "y": 0.008, "t": "th"}]},
              "mark": {"type": "text", "fontSize": 9, "align": "left", "baseline": "alphabetic", "font": "Liberation Sans", "color": "#ee2222"},
              "encoding": {"x": {"field": "x", "type": "quantitative"}, "y": {"field": "y", "type": "quantitative"}, "text": {"field": "t"}}
            },
            {
              "data": {"values": [{"x": 0.132, "y": 0.594, "t": "0.2 V Step"}]},
              "mark": {"type": "text", "fontSize": 15, "angle": 270, "align": "center", "baseline": "alphabetic", "font": "Liberation Sans", "color": "#222"},
              "encoding": {"x": {"field": "x", "type": "quantitative"}, "y": {"field": "y", "type": "quantitative"}, "text": {"field": "t"}}
            },
            {
              "data": {"values": [{"x": 0.068, "y": 0.056, "t": "V"}, {"x": 0.068, "y": 0.146, "t": "= 1 V"}]},
              "mark": {"type": "text", "fontSize": 14, "angle": 270, "align": "left", "baseline": "alphabetic", "font": "Liberation Sans", "color": "#222"},
              "encoding": {"x": {"field": "x", "type": "quantitative"}, "y": {"field": "y", "type": "quantitative"}, "text": {"field": "t"}}
            },
            {
              "data": {"values": [{"x": 0.08, "y": 0.0975, "t": "G2"}]},
              "mark": {"type": "text", "fontSize": 9, "angle": 270, "align": "left", "baseline": "alphabetic", "font": "Liberation Sans", "color": "#222"},
              "encoding": {"x": {"field": "x", "type": "quantitative"}, "y": {"field": "y", "type": "quantitative"}, "text": {"field": "t"}}
            }
          ]
        },
        {
          "data": {"values": [{"x": 0, "y": 0}]},
          "mark": {"type": "point", "opacity": 0},
          "encoding": {
            "x": {"field": "x", "type": "quantitative", "scale": {"domain": [0, 1], "nice": false},
                  "axis": {"orient": "top", "labels": false, "title": null, "values": [0,0.1,0.2,0.3,0.4,0.5,0.6,0.7,0.8,0.9,1]}},
            "y": {"field": "y", "type": "quantitative", "scale": {"domain": [0, 1], "nice": false},
                  "axis": {"orient": "right", "labels": false, "title": null, "values": [0,0.1,0.2,0.3,0.4,0.5,0.6,0.7,0.8,0.9,1]}}
          }
        }
      ]
    }
  ]
}
